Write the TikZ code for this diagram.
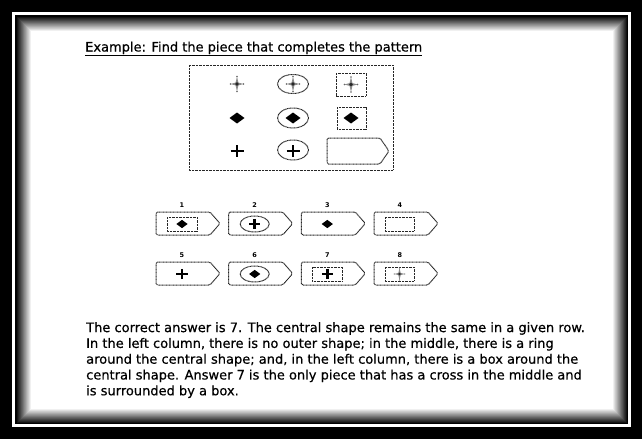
\documentclass[tikz,border=0pt]{standalone}
\usepackage{fontspec}
\setmainfont{DejaVu Sans}
\newfontfamily\heavysans[FakeBold=0.5]{DejaVu Sans}
\begin{document}
\begin{tikzpicture}[x=1pt,y=-1pt,
  outl/.style={draw=black!85, line width=1pt, dash pattern=on 0.9pt off 0.5pt},
  num/.style={font=\bfseries\fontsize{6.5}{6.5}\selectfont, inner sep=0pt},
  starmk/.pic={
    \fill[black!45] (0,-7.5)--(1.4,-1.4)--(6.5,0)--(1.4,1.4)--(0,7.5)--(-1.4,1.4)--(-6.5,0)--(-1.4,-1.4)--cycle;
    \fill[black!85] (0,0) circle (1.8);
    \fill[black!60] (0,-7.5) circle (0.8) (0,7.5) circle (0.8) (-6.5,0) circle (0.8) (6.5,0) circle (0.8);
  },
  diamk/.pic={\fill[black] (-7.5,0)--(0,-5.5)--(7.5,0)--(0,5.5)--cycle;},
  crossmk/.pic={\draw[black, line width=2.6pt] (-6.5,0)--(6.5,0) (0,-6)--(0,6);},
  piece/.pic={\draw[outl, rounded corners=1.5pt] (0,0)--(54,0)--(64,11.5)--(54,23)--(0,23)--cycle;},
]
\useasboundingbox (0,0) rectangle (642,439);
% frame
\fill[black] (0,0) rectangle (642,439);
\draw[white, line width=2.5pt] (13.5,13.5) rectangle (629.5,425.5);
\foreach \i in {0,...,15}{
  \pgfmathtruncatemacro\g{100-\i*100/15}
  \fill[black!\g] (16+\i,16+\i) rectangle (628-\i,424-\i);
}
% title
\node[anchor=base west, inner sep=0pt, font=\heavysans\fontsize{13}{15}\selectfont] (title) at (85,51.5)
  {\underline{Example: Find the piece that completes the pattern}};
% pattern grid
\draw[outl] (189,65) rectangle (393,170);
\pic at (237,84) {starmk};
\pic at (237,118) {diamk};
\pic at (237,151) {crossmk};
\draw[outl] (293,84) ellipse (15.5 and 9.5);
\draw[outl] (293,118) ellipse (15.5 and 10);
\draw[outl] (293,150) ellipse (15.5 and 10);
\pic at (293,84) {starmk};
\pic at (293,118) {diamk};
\pic at (293,151) {crossmk};
\draw[outl] (336,73) rectangle (366,96);
\draw[outl] (337,107) rectangle (366,129);
\pic at (351,84.5) {starmk};
\pic at (351,118) {diamk};
\draw[outl, rounded corners=1.5pt] (327,138)--(380,138)--(389,151)--(380,164)--(327,164)--cycle;
% answer pieces
\foreach \n/\L/\T in {1/156/212, 2/228.7/212, 3/301.3/212, 4/374/212,
                      5/156/262, 6/228.7/262, 7/301.3/262, 8/374/262}{
  \pic at (\L,\T) {piece};
  \node[num] (n\n) at (\L+26,\T-7) {\n};
}
% contents
\draw[outl] (167,217) rectangle (197,231);
\pic[scale=0.75] at (182,224) {diamk};
\draw[outl] (254.7,224) ellipse (14.5 and 8);
\pic[scale=0.85] at (254.7,224) {crossmk};
\pic[scale=0.75] at (327.3,224) {diamk};
\draw[outl] (385,217) rectangle (414,231);
\pic[scale=0.85] at (182,274) {crossmk};
\draw[outl] (254.7,274) ellipse (14.5 and 8);
\pic[scale=0.75] at (254.7,274) {diamk};
\draw[outl] (312.3,267) rectangle (342.3,281);
\pic[scale=0.85] at (327.3,274) {crossmk};
\draw[outl] (385,267) rectangle (414,281);
\pic[scale=0.8] at (399.5,274) {starmk};
% explanation
\node[anchor=north west, inner sep=0pt, align=left,
      font=\heavysans\fontsize{13}{15.8}\selectfont] (expl) at (86,322)
  {The correct answer is 7. The central shape remains the same in a given row.\\
   In the left column, there is no outer shape; in the middle, there is a ring\\
   around the central shape; and, in the left column, there is a box around the\\
   central shape. Answer 7 is the only piece that has a cross in the middle and\\
   is surrounded by a box.};
\end{tikzpicture}
\end{document}
